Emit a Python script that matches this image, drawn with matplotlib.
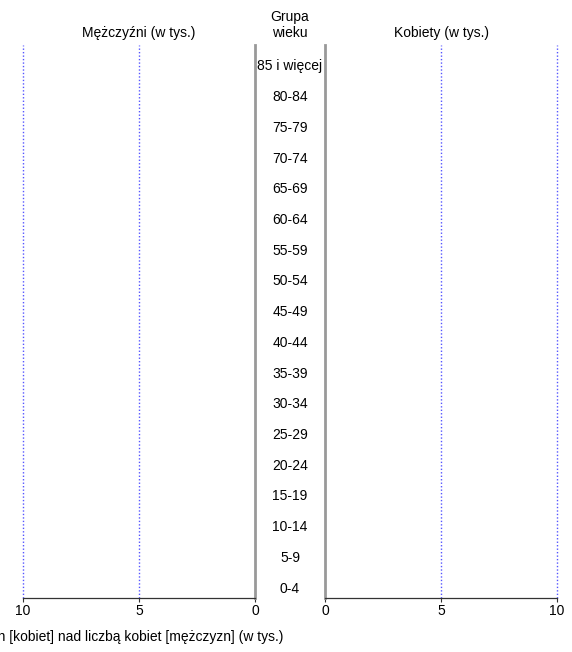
import numpy as np
import matplotlib.pyplot as plt

plt.rcParams['font.family'] = ['Liberation Sans', 'DejaVu Sans']

age_groups = ["0-4", "5-9", "10-14", "15-19", "20-24", "25-29", "30-34", "35-39",
              "40-44", "45-49", "50-54", "55-59", "60-64", "65-69", "70-74",
              "75-79", "80-84", "85 i więcej"]
men = [0] * 18
women = [0] * 18
x_ticks = [0, 5, 10]

FS = 10

fig = plt.figure(figsize=(5.72, 6.52), dpi=100)
ax_l = fig.add_axes([23 / 572, 1 - 598 / 652, 232 / 572, 553 / 652])
ax_r = fig.add_axes([325 / 572, 1 - 598 / 652, 232 / 572, 553 / 652])

y = np.arange(len(age_groups))
ax_l.barh(y, men, height=0.8, color="#4472c4")
ax_r.barh(y, women, height=0.8, color="#c0504d")

for ax in (ax_l, ax_r):
    ax.set_xlim(0, 10)
    ax.set_ylim(-0.5, len(age_groups) - 0.5)
    ax.set_yticks([])
    ax.set_xticks(x_ticks)
    ax.tick_params(axis="x", length=3, width=0.8, labelsize=FS, pad=1, color="#333333")
    for s in ("top", "left", "right", "bottom"):
        ax.spines[s].set_visible(False)
    ax.spines["bottom"].set_visible(True)
    ax.spines["bottom"].set_color("#333333")
    ax.spines["bottom"].set_linewidth(0.9)
    for t in (5, 10):
        ax.axvline(t, color="#5555ff", lw=1.0, ls=(0, (1, 1.5)), zorder=0, clip_on=False)

ax_l.invert_xaxis()
ax_l.spines["right"].set_visible(True)
ax_l.spines["right"].set_color("#999999")
ax_l.spines["right"].set_linewidth(2)
ax_r.spines["left"].set_visible(True)
ax_r.spines["left"].set_color("#999999")
ax_r.spines["left"].set_linewidth(2)

# age labels between the two panels
for i, lab in enumerate(age_groups):
    yy = ax_l.transData.transform((0, i))[1] - 6
    fig.text(290 / 572, yy / fig.dpi / fig.get_figheight(), lab,
             ha="center", va="center", fontsize=FS)

fig.text(139 / 572, 1 - 33 / 652, "Mężczyźni (w tys.)", ha="center", va="center", fontsize=FS)
fig.text(441 / 572, 1 - 33 / 652, "Kobiety (w tys.)", ha="center", va="center", fontsize=FS)
fig.text(290 / 572, 1 - 25 / 652, "Grupa\nwieku", ha="center", va="center",
         fontsize=FS, linespacing=1.15)
fig.text(283 / 572, 1 - 637 / 652,
         "Nadwyżka liczby mężczyzn [kobiet] nad liczbą kobiet [mężczyzn] (w tys.)",
         ha="right", va="center", fontsize=FS)

fig.savefig("out.png", dpi=100)
